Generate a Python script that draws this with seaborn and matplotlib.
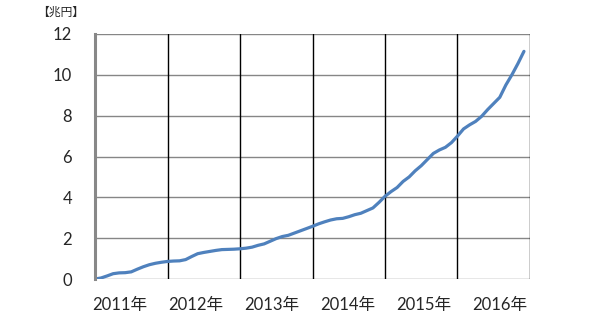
import numpy as np
import pandas as pd
import matplotlib
matplotlib.use("Agg")
import matplotlib.pyplot as plt
import seaborn as sns

# ---- data ----
years = ["2011年", "2012年", "2013年", "2014年", "2015年", "2016年"]
values = [
    0.00, 0.05, 0.15, 0.26, 0.30, 0.31, 0.35, 0.48, 0.60, 0.70, 0.77, 0.82,
    0.86, 0.88, 0.89, 0.95, 1.10, 1.24, 1.30, 1.35, 1.40, 1.44, 1.45, 1.46,
    1.48, 1.51, 1.56, 1.65, 1.72, 1.85, 1.98, 2.08, 2.14, 2.25, 2.36, 2.47,
    2.58, 2.70, 2.80, 2.89, 2.95, 2.97, 3.05, 3.15, 3.22, 3.35, 3.48, 3.75,
    4.05, 4.28, 4.48, 4.78, 5.00, 5.30, 5.55, 5.85, 6.15, 6.32, 6.45, 6.68,
    7.00, 7.35, 7.55, 7.72, 7.97, 8.30, 8.60, 8.90, 9.50, 10.00, 10.55, 11.15,
]
months = list(range(len(values)))
unit_label = "【兆円】"
y_ticks = [0, 2, 4, 6, 8, 10, 12]

df = pd.DataFrame({"month": months, "value": values})

sns.set_style("white")
plt.rcParams["font.family"] = ["Lato", "Noto Sans CJK JP", "DejaVu Sans"]

fig = plt.figure(figsize=(6.0, 3.24), dpi=100)
ax = fig.add_axes([95 / 600, 45 / 324, 435 / 600, 245 / 324])

# grid
for yv in y_ticks:
    ax.axhline(yv, color="#868686", lw=1.0, zorder=1)
for k in range(1, len(years) + 1):
    ax.axvline(12 * k, color="black", lw=1.0, zorder=1)

sns.lineplot(data=df, x="month", y="value", ax=ax, color="#4F81BD",
             lw=2.3, zorder=3)

ax.set_xlim(0, 72)
ax.set_ylim(0, 12)
ax.set_xlabel("")
ax.set_ylabel("")

for s in ["top", "right", "bottom"]:
    ax.spines[s].set_visible(False)
ax.spines["left"].set_color("#888888")
ax.spines["left"].set_linewidth(2.2)
ax.spines["left"].set_zorder(4)

ax.set_yticks(y_ticks)
ax.set_yticklabels([str(v) for v in y_ticks])
ax.tick_params(axis="y", which="major", direction="out", length=4.5,
               width=2.0, color="#888888", pad=12, labelsize=12)

# x major ticks at year boundaries (no labels)
ax.set_xticks([12 * k for k in range(len(years) + 1)])
ax.set_xticklabels([""] * (len(years) + 1))
ax.tick_params(axis="x", which="major", direction="out", length=4.5,
               width=1.0, color="#888888")
# labels as minor ticks
label_pos = [4.1 + 12.57 * i for i in range(len(years))]
ax.set_xticks(label_pos, minor=True)
ax.set_xticklabels(years, minor=True)
ax.tick_params(axis="x", which="minor", length=0, pad=13, labelsize=12)

fig.text(37 / 600, 1 - 12 / 324, unit_label, ha="left", va="center",
         fontsize=8.5)

fig.savefig("out.png", dpi=100, facecolor="white")
